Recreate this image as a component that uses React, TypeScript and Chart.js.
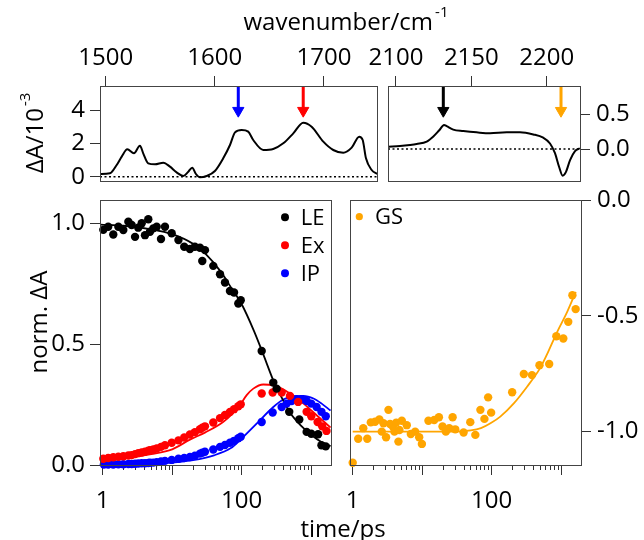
import React, { useEffect, useRef } from "react";
import { Chart, registerables } from "chart.js";

Chart.register(...registerables);

const FONT = "'Open Sans', 'Noto Sans', 'DejaVu Sans', sans-serif";
const W = 644;
const H = 540;

// ---------- top-left spectrum (1495-1750 cm-1), ΔA / 1e-3 ----------
const WN_LOW = [1494.8, 1503.9, 1510.1, 1514.7, 1519.8, 1525.9, 1531.4, 1534.4, 1539.0, 1545.2, 1552.8, 1558.9, 1565.0, 1571.1, 1575.7, 1579.3, 1582.7, 1586.4, 1592.5, 1600.1, 1607.7, 1613.9, 1618.5, 1624.6, 1630.6, 1635.2, 1644.4, 1653.5, 1662.7, 1671.9, 1681.0, 1688.7, 1699.4, 1708.5, 1717.7, 1725.4, 1732.3, 1735.5, 1738.5, 1743.7, 1748.8];
const DA_LOW = [0.16, 0.2, 0.7, 1.2, 1.64, 1.4, 1.86, 1.4, 0.8, 0.74, 0.84, 0.6, 0.26, 0.04, 0.3, 0.54, 0.16, -0.04, 0.04, 0.34, 1.1, 1.9, 2.66, 2.8, 2.7, 2.2, 1.6, 1.66, 2.0, 2.6, 3.24, 3.0, 2.1, 1.6, 1.44, 1.74, 2.4, 2.2, 1.1, 0.4, 0.16];
const ZERO_LOW_X = [1494.8, 1748.6];

// ---------- top-right spectrum (2095-2222 cm-1) ----------
const WN_HIGH = [2094.9, 2102.7, 2109.3, 2113.7, 2120.4, 2124.8, 2128.7, 2131.9, 2133.6, 2138, 2144.7, 2153.5, 2162.4, 2173.5, 2182.3, 2191.1, 2197.7, 2202.2, 2205.5, 2208.2, 2210.6, 2212.8, 2215.5, 2218.8, 2222];
const DA_HIGH = [0.033, 0.043, 0.058, 0.072, 0.106, 0.18, 0.27, 0.346, 0.33, 0.28, 0.26, 0.24, 0.226, 0.24, 0.24, 0.21, 0.163, 0.08, -0.06, -0.255, -0.385, -0.33, -0.16, -0.03, 0.01];
const ZERO_HIGH_X = [2094.7, 2222.1];

// ---------- probe arrows ----------
const ARROW_LOW_X = [1621.5, 1681];
const ARROW_LOW_COLORS = ["#0000ff", "#ff0000"];
const ARROW_LOW_Y = [5.44, 3.96];
const ARROW_HIGH_X = [2131.4, 2209.5];
const ARROW_HIGH_COLORS = ["#000000", "#ffa500"];
const ARROW_HIGH_Y = [0.908, 0.552];

// ---------- kinetics (time / ps) ----------
const LE_T = [1.02, 1.2, 1.42, 1.68, 1.98, 2.34, 2.61, 2.92, 3.25, 3.64, 4.06, 4.53, 4.79, 5.35, 5.98, 6.9, 7.87, 9.83, 12.3, 14.9, 18.0, 21.2, 25.1, 27.1, 29.6, 39.0, 48.8, 57.5, 67.8, 77.6, 89.4, 96.9, 194, 285, 318, 483, 674, 860, 1003, 1257, 1405, 1620];
const LE_V = [0.973, 0.986, 0.954, 0.986, 0.972, 1.007, 0.993, 0.944, 0.982, 1.0, 0.951, 1.017, 0.965, 0.979, 0.986, 0.935, 0.986, 0.959, 0.931, 0.903, 0.894, 0.903, 0.899, 0.844, 0.889, 0.824, 0.789, 0.755, 0.72, 0.714, 0.668, 0.682, 0.472, 0.341, 0.316, 0.22, 0.188, 0.137, 0.129, 0.127, 0.082, 0.077];

const EX_T = [1.02, 1.2, 1.42, 1.68, 1.98, 2.34, 2.61, 2.92, 3.25, 3.64, 4.06, 4.53, 4.79, 5.35, 5.98, 6.9, 7.87, 9.83, 12.3, 14.9, 18.0, 21.2, 25.1, 27.1, 29.6, 39.0, 48.8, 57.5, 67.8, 77.6, 89.4, 96.9, 194, 279, 376, 495, 649, 860, 1003, 1237, 1440, 1660];
const EX_V = [0.026, 0.029, 0.032, 0.034, 0.036, 0.039, 0.041, 0.045, 0.049, 0.052, 0.055, 0.059, 0.061, 0.064, 0.068, 0.075, 0.082, 0.092, 0.102, 0.114, 0.126, 0.136, 0.148, 0.154, 0.16, 0.176, 0.194, 0.207, 0.219, 0.231, 0.243, 0.251, 0.296, 0.3, 0.3, 0.286, 0.261, 0.22, 0.202, 0.178, 0.16, 0.141];

const IP_T = [1.04, 1.2, 1.42, 1.68, 1.98, 2.34, 2.61, 2.92, 3.25, 3.64, 4.06, 4.53, 4.79, 5.35, 5.98, 6.9, 7.87, 9.83, 12.3, 14.9, 18.0, 21.2, 25.1, 27.1, 29.6, 39.0, 48.8, 57.5, 67.8, 77.6, 89.4, 96.9, 194, 279, 376, 443, 522, 615, 725, 860, 1003, 1197, 1405, 1620];
const IP_V = [0.002, 0.002, 0.002, 0.003, 0.003, 0.004, 0.004, 0.005, 0.006, 0.007, 0.007, 0.008, 0.009, 0.01, 0.012, 0.015, 0.017, 0.021, 0.026, 0.029, 0.033, 0.038, 0.047, 0.051, 0.055, 0.064, 0.075, 0.083, 0.092, 0.1, 0.111, 0.117, 0.178, 0.217, 0.24, 0.254, 0.265, 0.272, 0.272, 0.265, 0.254, 0.24, 0.22, 0.202];

const GS_T = [1.0, 1.2, 1.42, 1.62, 1.82, 2.1, 2.42, 2.62, 2.77, 3.02, 3.27, 3.45, 3.78, 3.99, 4.22, 4.55, 4.7, 5.09, 6.0, 6.86, 7.92, 9.05, 9.9, 12.3, 14.9, 17.4, 19.6, 21.9, 24.5, 27.4, 29.9, 39.4, 49.2, 58.2, 68.8, 78.6, 88.9, 98.2, 197, 290, 380, 487, 672, 852, 1073, 1263, 1450, 1615];
const GS_V = [-1.134, -1.031, -0.985, -1.031, -0.96, -0.957, -0.947, -1.0, -0.964, -1.024, -0.906, -0.967, -0.978, -1.0, -0.961, -1.043, -0.993, -0.953, -0.972, -1.01, -1.0, -1.024, -1.053, -0.953, -0.95, -0.938, -0.978, -1.0, -0.985, -0.938, -0.99, -1.004, -0.959, -1.014, -0.906, -0.945, -0.852, -0.918, -0.83, -0.751, -0.756, -0.713, -0.708, -0.588, -0.598, -0.526, -0.411, -0.471];

// fitted curves
const LE_FIT_T = [0.93, 2, 5, 10, 20, 30, 50, 70, 100, 150, 200, 300, 400, 500, 700, 1000, 1400, 1900];
const LE_FIT_V = [0.995, 0.99, 0.975, 0.955, 0.915, 0.875, 0.8, 0.735, 0.665, 0.555, 0.465, 0.335, 0.265, 0.215, 0.165, 0.125, 0.095, 0.078];
const EX_FIT_T = [0.93, 2, 5, 10, 18, 30, 54, 75, 94, 118, 147, 204, 285, 495, 775, 1197, 1900];
const EX_FIT_V = [0.02, 0.028, 0.045, 0.065, 0.105, 0.135, 0.178, 0.215, 0.247, 0.289, 0.316, 0.333, 0.33, 0.296, 0.254, 0.206, 0.155];
const IP_FIT_T = [0.93, 5, 10, 20, 40, 70, 94, 164, 285, 397, 555, 775, 1080, 1400, 1900];
const IP_FIT_V = [0.0, 0.004, 0.01, 0.02, 0.04, 0.07, 0.102, 0.171, 0.24, 0.271, 0.285, 0.286, 0.275, 0.255, 0.225];
const GS_FIT_T = [1.0, 10, 30, 50, 70, 96, 133, 208, 323, 495, 620, 877, 1220, 1620];
const GS_FIT_V = [-1.0, -1.0, -1.0, -0.995, -0.985, -0.964, -0.935, -0.878, -0.806, -0.727, -0.669, -0.569, -0.483, -0.397];

// ticks
const LOW_WN_TICKS = [1500, 1600, 1700];
const HIGH_WN_TICKS = [2100, 2150, 2200];
const LOW_DA_TICKS = [0, 2, 4];
const HIGH_DA_TICKS = [0, 0.5];
const NORM_TICKS = [0, 0.5, 1.0];
const GS_TICKS = [-1.0, -0.5, 0.0];
const TIME_MAJOR = [1, 10, 100, 1000];
const TIME_LABELS = [1, 100];
const TIME_MINOR = [2, 3, 4, 5, 6, 7, 8, 9, 20, 30, 40, 50, 60, 70, 80, 90, 200, 300, 400, 500, 600, 700, 800, 900];

// ---------- helpers ----------
const zip = (xs: number[], ys: number[]) => xs.map((x, i) => ({ x, y: ys[i] }));
const fixedTicks = (vals: number[]) => (scale: any) => {
  scale.ticks = vals.map((v) => ({ value: v }));
};
const FRAME = "#444";
const TICK_FONT = { family: FONT, size: 24 };

const framePlugin = {
  id: "frame",
  afterDraw(chart: any) {
    const { ctx, chartArea: a } = chart;
    ctx.save();
    ctx.strokeStyle = FRAME;
    ctx.lineWidth = 1;
    ctx.strokeRect(Math.round(a.left) + 0.5, Math.round(a.top) + 0.5, Math.round(a.right - a.left), Math.round(a.bottom - a.top));
    ctx.restore();
  },
};

const dotLegendPlugin = {
  id: "dotLegend",
  afterDraw(chart: any, _args: any, opts: any) {
    if (!opts || opts.x === undefined) return;
    const ctx = chart.ctx;
    const items = chart.data.datasets.filter((d: any) => d.legendText);
    ctx.save();
    items.forEach((d: any, i: number) => {
      const y = opts.y + i * opts.step;
      ctx.beginPath();
      ctx.arc(opts.x, y, opts.r, 0, Math.PI * 2);
      ctx.fillStyle = d.backgroundColor;
      ctx.fill();
      ctx.font = `${opts.size}px ${FONT}`;
      ctx.fillStyle = "#000";
      ctx.textBaseline = "middle";
      ctx.textAlign = "left";
      ctx.fillText(d.legendText, opts.x + opts.gap, y + 1);
    });
    ctx.restore();
  },
};

function axis(extra: any) {
  return {
    ...extra,
    border: { display: false },
    grid: { drawOnChartArea: false, drawTicks: true, tickLength: 10, tickColor: "#333", tickWidth: 1, ...(extra.grid || {}) },
    ticks: { font: TICK_FONT, color: "#000", autoSkip: false, maxRotation: 0, minRotation: 0, ...(extra.ticks || {}) },
  };
}

function baseOptions(padding: any, scales: any, legend?: any) {
  return {
    responsive: false,
    animation: false,
    devicePixelRatio: 1,
    events: [],
    layout: { padding },
    plugins: { legend: { display: false }, tooltip: { enabled: false }, dotLegend: legend || {} },
    scales,
  };
}

function arrowSets(xs: number[], colors: string[], ys: number[]) {
  return xs.map((x, i) => ({
    data: [{ x, y: ys[0] }, { x, y: ys[1] }],
    showLine: true,
    borderColor: colors[i],
    backgroundColor: colors[i],
    borderWidth: 3,
    pointStyle: "triangle",
    rotation: 180,
    pointRotation: 180,
    pointRadius: [0, 6.5],
    pointBorderWidth: 1,
    pointBorderColor: colors[i],
    pointBackgroundColor: colors[i],
  }));
}

function spectrumLine(xs: number[], ys: number[]) {
  return { data: zip(xs, ys), showLine: true, borderColor: "#000", borderWidth: 2, pointRadius: 0, cubicInterpolationMode: "monotone" };
}
function zeroLine(xs: number[]) {
  return { data: zip(xs, [0, 0]), showLine: true, borderColor: "#000", borderWidth: 1.5, borderDash: [2, 2.5], pointRadius: 0 };
}
function dots(xs: number[], ys: number[], color: string, label?: string) {
  return { data: zip(xs, ys), showLine: false, backgroundColor: color, borderColor: color, pointRadius: 4.2, pointBorderWidth: 0, clip: false, legendText: label };
}
function fit(xs: number[], ys: number[], color: string) {
  return { data: zip(xs, ys), showLine: true, borderColor: color, borderWidth: 1.8, pointRadius: 0, cubicInterpolationMode: "monotone" };
}

const T_MIN = 0.9144;
const T_MAX = 1928;
function timeAxes() {
  return {
    x: axis({
      type: "logarithmic",
      position: "bottom",
      weight: 0,
      min: T_MIN,
      max: T_MAX,
      afterBuildTicks: fixedTicks(TIME_MINOR),
      afterFit: (s: any) => { s.height = 0; },
      grid: { tickLength: 5 },
      ticks: { display: false },
    }),
    x2: axis({
      type: "logarithmic",
      position: "bottom",
      weight: 1,
      min: T_MIN,
      max: T_MAX,
      afterBuildTicks: fixedTicks(TIME_MAJOR),
      afterFit: (s: any) => { s.height = 75; },
      ticks: { padding: 12, callback: (v: number) => (TIME_LABELS.includes(v) ? String(v) : "") },
    }),
  };
}

function configLow(): any {
  return {
    type: "scatter",
    data: { datasets: [...arrowSets(ARROW_LOW_X, ARROW_LOW_COLORS, ARROW_LOW_Y), spectrumLine(WN_LOW, DA_LOW), zeroLine(ZERO_LOW_X)] },
    options: baseOptions({ left: 40, top: 36, right: 267, bottom: 359 }, {
      x: axis({ type: "linear", position: "top", min: 1494.8, max: 1748.6, afterBuildTicks: fixedTicks(LOW_WN_TICKS), afterFit: (s: any) => { s.height = 50; }, ticks: { padding: 3, callback: (v: number) => String(v) } }),
      y: axis({ type: "linear", position: "left", min: -0.26, max: 5.44, afterBuildTicks: fixedTicks(LOW_DA_TICKS), afterFit: (s: any) => { s.width = 60; }, ticks: { padding: 5, callback: (v: number) => String(v) } }),
    }),
    plugins: [framePlugin, dotLegendPlugin],
  };
}

function configHigh(): any {
  return {
    type: "scatter",
    data: { datasets: [...arrowSets(ARROW_HIGH_X, ARROW_HIGH_COLORS, ARROW_HIGH_Y), spectrumLine(WN_HIGH, DA_HIGH), zeroLine(ZERO_HIGH_X)] },
    options: baseOptions({ left: 388, top: 36, right: 4, bottom: 359 }, {
      x: axis({ type: "linear", position: "top", min: 2094.7, max: 2222.1, afterBuildTicks: fixedTicks(HIGH_WN_TICKS), afterFit: (s: any) => { s.height = 50; }, ticks: { padding: 3, callback: (v: number) => String(v) } }),
      y: axis({ type: "linear", position: "right", min: -0.461, max: 0.908, afterBuildTicks: fixedTicks(HIGH_DA_TICKS), afterFit: (s: any) => { s.width = 60; }, ticks: { padding: 6, callback: (v: number) => v.toFixed(1) } }),
    }),
    plugins: [framePlugin, dotLegendPlugin],
  };
}

function configKinetics(): any {
  return {
    type: "scatter",
    data: {
      datasets: [
        dots(LE_T, LE_V, "#000000", "LE"),
        dots(EX_T, EX_V, "#ff0000", "Ex"),
        dots(IP_T, IP_V, "#0000ff", "IP"),
        fit(LE_FIT_T, LE_FIT_V, "#000000"),
        fit(EX_FIT_T, EX_FIT_V, "#ff0000"),
        fit(IP_FIT_T, IP_FIT_V, "#0000ff"),
      ],
    },
    options: baseOptions({ left: 40, top: 200, right: 313, bottom: 0 }, {
      ...timeAxes(),
      y: axis({ type: "linear", position: "left", min: 0, max: 1.0965, afterBuildTicks: fixedTicks(NORM_TICKS), afterFit: (s: any) => { s.width = 60; }, ticks: { padding: 5, callback: (v: number) => v.toFixed(1) } }),
    }, { x: 285, y: 217.3, step: 28, gap: 15.7, r: 4, size: 22 }),
    plugins: [framePlugin, dotLegendPlugin],
  };
}

function configGS(): any {
  return {
    type: "scatter",
    data: { datasets: [dots(GS_T, GS_V, "#ffa500", "GS"), fit(GS_FIT_T, GS_FIT_V, "#ffa500")] },
    options: baseOptions({ left: 350, top: 200, right: 3, bottom: 0 }, {
      ...timeAxes(),
      y: axis({ type: "linear", position: "right", min: -1.144, max: 0, afterBuildTicks: fixedTicks(GS_TICKS), afterFit: (s: any) => { s.width = 60; }, ticks: { padding: 6, callback: (v: number) => v.toFixed(1) } }),
    }, { x: 359.3, y: 216.7, step: 28, gap: 15.7, r: 3.6, size: 22 }),
    plugins: [framePlugin, dotLegendPlugin],
  };
}

const canvasStyle: React.CSSProperties = { position: "absolute", left: 0, top: 0, width: W, height: H };
const textBase: React.CSSProperties = { position: "absolute", fontSize: 24, lineHeight: "24px", whiteSpace: "nowrap", color: "#000", fontFamily: FONT };

export default function App() {
  const r1 = useRef<HTMLCanvasElement>(null);
  const r2 = useRef<HTMLCanvasElement>(null);
  const r3 = useRef<HTMLCanvasElement>(null);
  const r4 = useRef<HTMLCanvasElement>(null);

  useEffect(() => {
    Chart.defaults.font.family = FONT;
    const charts = [
      new Chart(r1.current!, configLow()),
      new Chart(r2.current!, configHigh()),
      new Chart(r3.current!, configKinetics()),
      new Chart(r4.current!, configGS()),
    ];
    return () => charts.forEach((c) => c.destroy());
  }, []);

  return (
    <div style={{ position: "fixed", left: 0, top: 0, width: W, height: H, background: "#fff", overflow: "hidden" }}>
      <canvas ref={r1} width={W} height={H} style={canvasStyle} />
      <canvas ref={r2} width={W} height={H} style={canvasStyle} />
      <canvas ref={r3} width={W} height={H} style={canvasStyle} />
      <canvas ref={r4} width={W} height={H} style={canvasStyle} />
      <div style={{ ...textBase, left: 346, top: 9, transform: "translateX(-50%)" }}>
        wavenumber/cm<span style={{ fontSize: 15, position: "relative", top: -13, marginLeft: 2 }}>-1</span>
      </div>
      <div style={{ ...textBase, left: 343, top: 516, transform: "translateX(-50%)" }}>time/ps</div>
      <div style={{ ...textBase, left: 35, top: 133, transform: "translate(-50%, -50%) rotate(-90deg)" }}>
        ΔA/10<span style={{ fontSize: 15, position: "relative", top: -13, marginLeft: 2 }}>-3</span>
      </div>
      <div style={{ ...textBase, left: 38, top: 322, transform: "translate(-50%, -50%) rotate(-90deg)" }}>norm. ΔA</div>
    </div>
  );
}
